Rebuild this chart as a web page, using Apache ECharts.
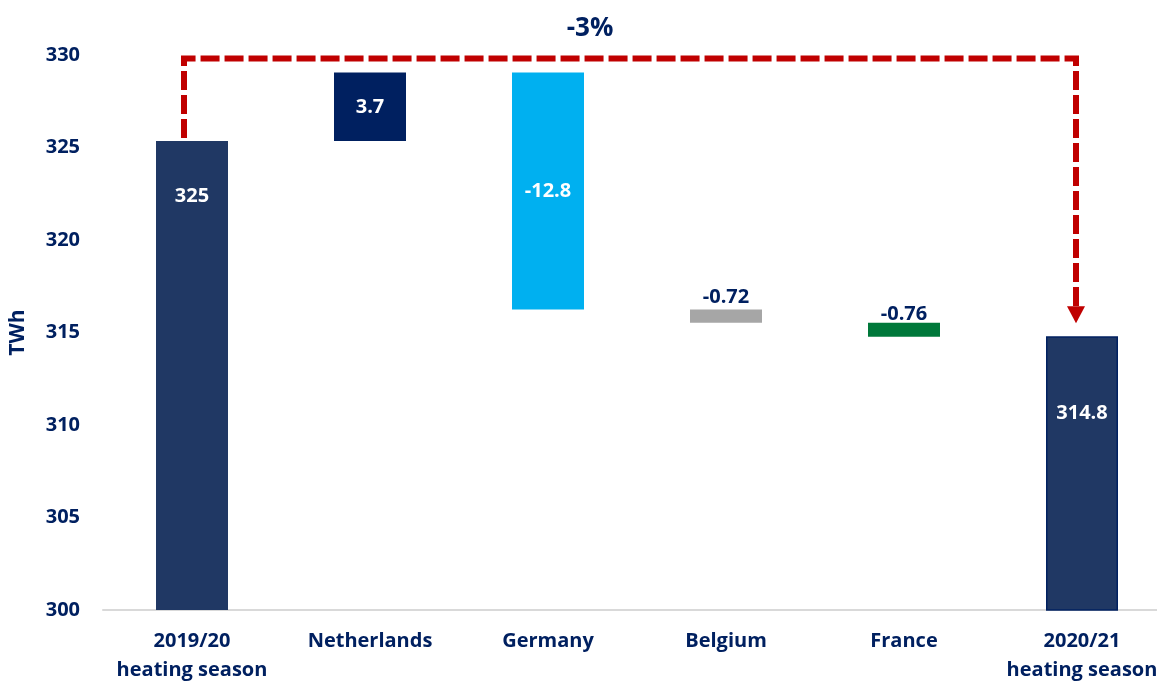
<!DOCTYPE html>
<html>
<head>
<meta charset="utf-8">
<script src="https://cdn.jsdelivr.net/npm/echarts@6/dist/echarts.min.js"></script>
<style>
  html, body { margin: 0; padding: 0; background: #fff; }
  #chart { width: 1157px; height: 681px; }
</style>
</head>
<body>
<div id="chart"></div>
<script>
// waterfall data
const categories = ["2019/20\nheating season", "Netherlands", "Germany", "Belgium", "France", "2020/21\nheating season"];
const startValue = 325.35;
const deltas = [3.7, -12.8, -0.72, -0.76];
const endValue = 314.8;
const valueLabels = ["325", "3.7", "-12.8", "-0.72", "-0.76", "314.8"];
const changeLabel = "-3%";
const yTicks = [300, 305, 310, 315, 320, 325, 330];

const navy = "#002060";
const barColors = ["#203864", "#002060", "#00B0F0", "#A6A6A6", "#00783A", "#203864"];
// label placement per bar
const labelStyles = [
  { position: "insideTop", distance: 45, color: "#fff" },
  { position: "inside", color: "#fff" },
  { position: "inside", color: "#fff" },
  { position: "top", distance: 2, color: navy },
  { position: "top", distance: -2, color: navy },
  { position: "insideTop", distance: 67, color: "#fff" },
];

// build stacked base + visible parts
const baseData = [0];
const barData = [startValue];
let running = startValue;
let maxTotal = startValue;
deltas.forEach((d) => {
  const next = running + d;
  baseData.push(Math.min(running, next));
  barData.push(Math.abs(d));
  running = next;
  maxTotal = Math.max(maxTotal, running);
});
baseData.push(0);
barData.push(endValue);

const font = "'Open Sans', sans-serif";

const option = {
  animation: false,
  grid: { left: 103, right: -14, top: 55, bottom: 71, outerBoundsMode: "none" },
  xAxis: {
    type: "category",
    data: categories,
    axisLine: { lineStyle: { color: "#d9d9d9", width: 2 } },
    axisTick: { show: false },
    axisLabel: {
      color: navy,
      fontWeight: "bold",
      fontSize: 20,
      fontFamily: font,
      lineHeight: 29,
      margin: 17,
      interval: 0,
    },
  },
  yAxis: {
    type: "value",
    min: yTicks[0],
    max: yTicks[yTicks.length - 1],
    interval: 5,
    name: "TWh",
    nameLocation: "middle",
    nameRotate: 90,
    nameGap: 74,
    nameTextStyle: { color: navy, fontWeight: "bold", fontSize: 21, fontFamily: font },
    axisLine: { show: false },
    axisTick: { show: false },
    splitLine: { show: false },
    axisLabel: { color: navy, fontWeight: "bold", fontSize: 20, fontFamily: font, margin: 23 },
  },
  series: [
    {
      type: "bar",
      stack: "wf",
      barWidth: 72,
      silent: true,
      itemStyle: { color: "transparent" },
      data: baseData,
    },
    {
      type: "bar",
      stack: "wf",
      barWidth: 72,
      data: barData.map((v, i) => ({
        value: v,
        itemStyle: {
          color: barColors[i],
          borderColor: i === barData.length - 1 ? navy : barColors[i],
          borderWidth: i === barData.length - 1 ? 1.5 : 0,
        },
        label: Object.assign({
          show: true,
          formatter: valueLabels[i],
          fontWeight: "bold",
          fontSize: 20,
          fontFamily: font,
        }, labelStyles[i]),
      })),
    },
    {
      // dashed bracket with arrow and % change
      type: "custom",
      silent: true,
      z: 5,
      data: [[0, startValue]],
      renderItem: (params, api) => {
        const last = categories.length - 1;
        const p0 = api.coord([0, startValue]);
        const p1 = api.coord([last, endValue]);
        const pTop = api.coord([0, maxTotal]);
        const x0 = p0[0] - 8;
        const x1 = p1[0] - 6;
        const yTop = pTop[1] - 14;
        const tipY = p1[1] - 13;
        return {
          type: "group",
          children: [
            {
              type: "polyline",
              shape: { points: [[x0, p0[1] - 3], [x0, yTop], [x1, yTop], [x1, tipY - 15]] },
              style: { stroke: "#C00000", lineWidth: 6, lineDash: [19, 5], fill: null },
            },
            {
              type: "polygon",
              shape: { points: [[x1 - 9, tipY - 17], [x1 + 9, tipY - 17], [x1, tipY]] },
              style: { fill: "#C00000" },
            },
            {
              type: "text",
              x: (x0 + x1) / 2 - 40,
              y: yTop - 30,
              style: {
                text: changeLabel,
                fill: navy,
                font: "bold 26px " + font,
                align: "center",
                verticalAlign: "middle",
              },
            },
          ],
        };
      },
    },
  ],
};

const chart = echarts.init(document.getElementById("chart"));
chart.setOption(option);
</script>
</body>
</html>
